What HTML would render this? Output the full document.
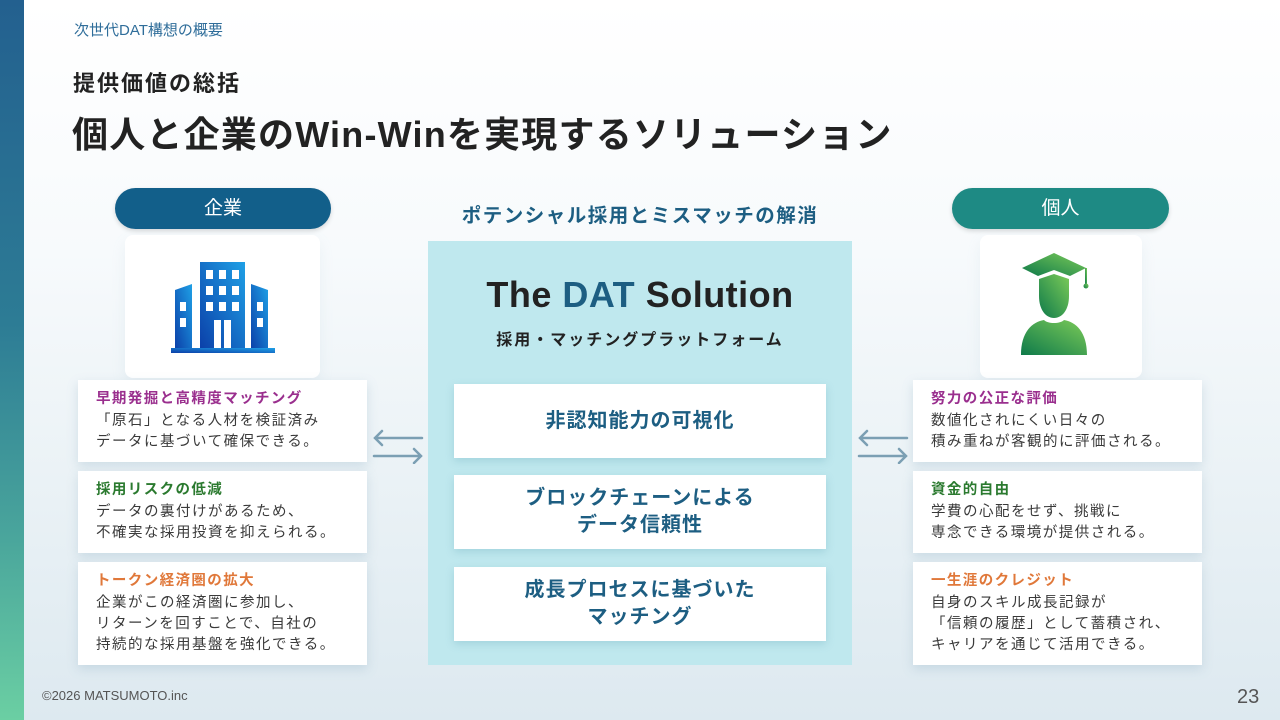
<!DOCTYPE html>
<html><head><meta charset="utf-8"><style>
*{margin:0;padding:0;box-sizing:border-box}
body{width:1280px;height:720px;overflow:hidden;position:relative;font-family:"Liberation Sans","Noto Sans CJK JP",sans-serif;background:linear-gradient(180deg,#ffffff 0%,#f7fafc 35%,#e9f1f5 70%,#dde9f0 100%)}
.strip{position:absolute;left:0;top:0;width:24px;height:720px;background:linear-gradient(180deg,#23608f 0%,#2d7c95 45%,#4aa69c 75%,#6bcfa3 100%)}
.abs{position:absolute}
.pill{position:absolute;top:188px;height:41px;border-radius:21px;color:#fff;font-size:19px;text-align:center;line-height:41px;box-shadow:0 2px 5px rgba(0,0,0,.15)}
.iconp{position:absolute;top:235px;height:143px;background:#fff;border-radius:8px;box-shadow:0 6px 14px rgba(150,180,200,.12)}
.card{position:absolute;background:#fff;padding:9px 0 0 18px;box-shadow:0 4px 10px rgba(120,160,185,.25);font-size:14.5px;line-height:21px;color:#3a3a3a;letter-spacing:1.5px}
.card b{display:block;font-size:14.5px;line-height:21px;margin-bottom:1px;letter-spacing:1.4px}
.pu{color:#9a2f8e}.gr{color:#2b7a2f}.or{color:#e0783a}
.ib{position:absolute;left:26px;width:372px;height:74px;background:#fff;box-shadow:0 3px 8px rgba(80,150,170,.25);color:#1d5e82;font-weight:bold;font-size:20px;line-height:27px;letter-spacing:1px;display:flex;align-items:center;justify-content:center;text-align:center}
</style></head><body>
<div class="strip"></div>
<div class="abs" style="left:74px;top:19px;font-size:15px;color:#2f6d9a">次世代DAT構想の概要</div>
<div class="abs" style="left:73px;top:66px;font-size:22px;font-weight:bold;color:#222;letter-spacing:2px">提供価値の総括</div>
<div class="abs" style="left:72px;top:106px;font-size:36px;font-weight:bold;color:#222;letter-spacing:1.2px">個人と企業のWin-Winを実現するソリューション</div>

<div class="pill" style="left:115px;width:216px;background:#125f8a">企業</div>
<div class="pill" style="left:952px;width:217px;background:#1e8a84">個人</div>

<div class="iconp" style="left:125px;width:195px"></div>
<div class="iconp" style="left:980px;width:162px"></div>

<svg class="abs" style="left:170px;top:260px" width="108" height="94" viewBox="0 0 108 94">
<defs><linearGradient id="bg" x1="0" y1="1" x2="1" y2="0"><stop offset="0" stop-color="#0b3fa8"/><stop offset="1" stop-color="#1fa0e6"/></linearGradient></defs>
<g fill="url(#bg)">
<path d="M5 30 L22 24 L22 90 L5 90Z"/>
<rect x="30" y="2" width="45" height="88"/>
<path d="M81 24 L98 30 L98 90 L81 90Z"/>
<rect x="1" y="88" width="104" height="5"/>
</g>
<g fill="#fff">
<rect x="36" y="10" width="7" height="9"/><rect x="49" y="10" width="7" height="9"/><rect x="62" y="10" width="7" height="9"/>
<rect x="36" y="26" width="7" height="9"/><rect x="49" y="26" width="7" height="9"/><rect x="62" y="26" width="7" height="9"/>
<rect x="36" y="42" width="7" height="9"/><rect x="49" y="42" width="7" height="9"/><rect x="62" y="42" width="7" height="9"/>
<rect x="44" y="60" width="7" height="28"/><rect x="54" y="60" width="7" height="28"/>
<rect x="10" y="42" width="6" height="9"/><rect x="10" y="58" width="6" height="9"/>
<rect x="87" y="42" width="6" height="9"/><rect x="87" y="58" width="6" height="9"/>
</g></svg>

<svg class="abs" style="left:1020px;top:252px" width="82" height="106" viewBox="0 0 82 106">
<defs><linearGradient id="gg" x1="0" y1="1" x2="1" y2="0"><stop offset="0" stop-color="#0e7a4a"/><stop offset="1" stop-color="#7ccb58"/></linearGradient></defs>
<g fill="url(#gg)">
<path d="M2 16 L34 1 L66 16 L50 24 L34 18 L18 24Z"/>
<rect x="65" y="16" width="2" height="16"/><circle cx="66" cy="34" r="2.5"/>
<path d="M19 27 L34 22 L49 27 L49 44 C49 58 42 66 34 66 C26 66 19 58 19 44Z"/>
<path d="M1 103 C1 80 12 70 24 68 C28 72 40 72 44 68 C56 70 67 80 67 103Z"/>
</g></svg>

<div class="abs" style="left:398px;top:199px;width:484px;text-align:center;font-size:19.5px;font-weight:bold;color:#1d5e82;letter-spacing:1.5px">ポテンシャル採用とミスマッチの解消</div>
<div class="abs" style="left:428px;top:241px;width:424px;height:424px;background:#bfe8ee">
<div class="abs" style="left:0;top:33px;width:424px;text-align:center;font-size:36px;font-weight:bold;color:#222;letter-spacing:0.5px">The <span style="color:#1d5e82">DAT</span> Solution</div>
<div class="abs" style="left:0;top:85px;width:424px;text-align:center;font-size:16px;font-weight:bold;color:#222;letter-spacing:2px">採用・マッチングプラットフォーム</div>
<div class="ib" style="top:143px">非認知能力の可視化</div>
<div class="ib" style="top:234px">ブロックチェーンによる<br>データ信頼性</div>
<div class="ib" style="top:326px">成長プロセスに基づいた<br>マッチング</div>
</div>

<div class="card" style="left:78px;top:380px;width:289px;height:82px"><b class="pu">早期発掘と高精度マッチング</b>「原石」となる人材を検証済み<br>データに基づいて確保できる。</div>
<div class="card" style="left:78px;top:471px;width:289px;height:82px"><b class="gr">採用リスクの低減</b>データの裏付けがあるため、<br>不確実な採用投資を抑えられる。</div>
<div class="card" style="left:78px;top:562px;width:289px;height:103px"><b class="or">トークン経済圏の拡大</b>企業がこの経済圏に参加し、<br>リターンを回すことで、自社の<br>持続的な採用基盤を強化できる。</div>

<div class="card" style="left:913px;top:380px;width:289px;height:82px"><b class="pu">努力の公正な評価</b>数値化されにくい日々の<br>積み重ねが客観的に評価される。</div>
<div class="card" style="left:913px;top:471px;width:289px;height:82px"><b class="gr">資金的自由</b>学費の心配をせず、挑戦に<br>専念できる環境が提供される。</div>
<div class="card" style="left:913px;top:562px;width:289px;height:103px"><b class="or">一生涯のクレジット</b>自身のスキル成長記録が<br>「信頼の履歴」として蓄積され、<br>キャリアを通じて活用できる。</div>

<svg class="abs" style="left:370px;top:428px" width="56" height="36" viewBox="0 0 56 36" fill="none" stroke="#7b9fb3" stroke-width="2.5" stroke-linecap="round">
<path d="M52 10 H5 M12 3 L5 10 L12 17"/><path d="M4 28 H51 M44 21 L51 28 L44 35"/></svg>
<svg class="abs" style="left:855px;top:428px" width="56" height="36" viewBox="0 0 56 36" fill="none" stroke="#7b9fb3" stroke-width="2.5" stroke-linecap="round">
<path d="M52 10 H5 M12 3 L5 10 L12 17"/><path d="M4 28 H51 M44 21 L51 28 L44 35"/></svg>

<div class="abs" style="left:42px;top:688px;font-size:13px;color:#555">©2026 MATSUMOTO.inc</div>
<div class="abs" style="left:1237px;top:686px;font-size:20px;color:#555">23</div>
</body></html>
